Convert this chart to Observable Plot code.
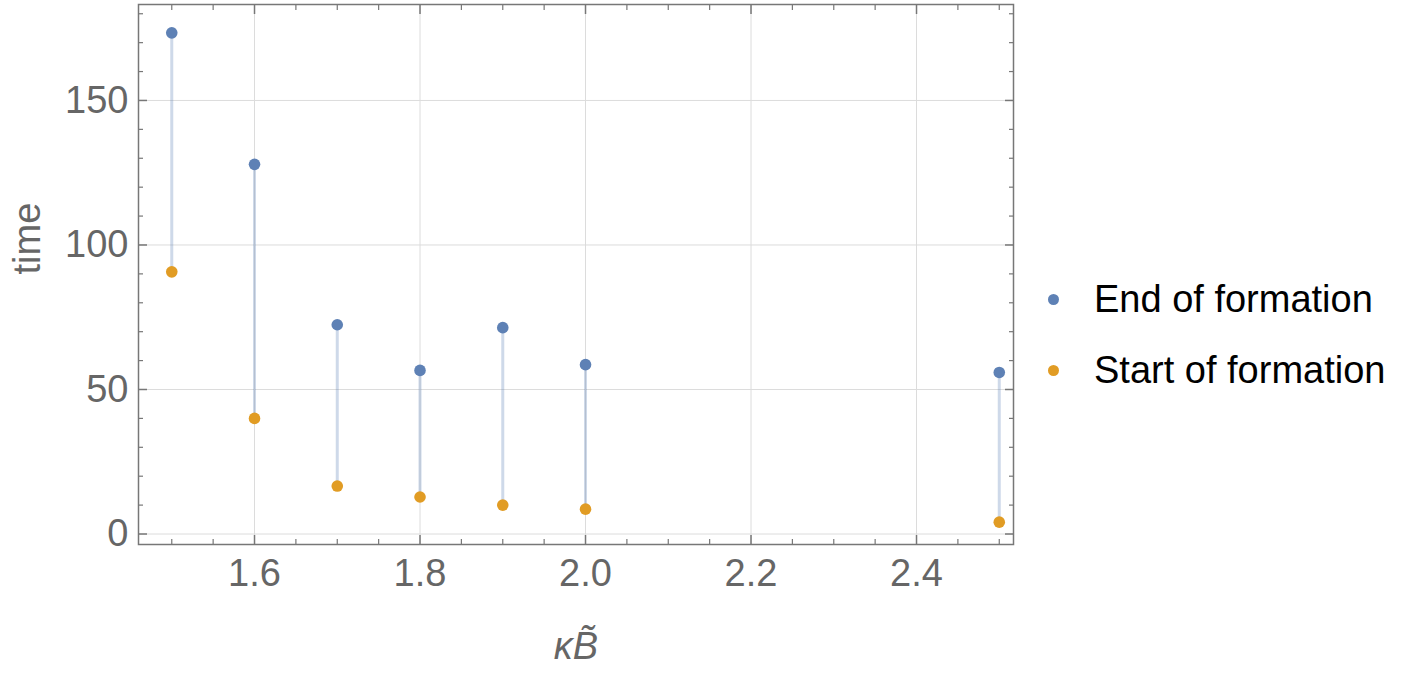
<!DOCTYPE html>
<html>
<head>
<meta charset="utf-8">
<script src="https://cdn.jsdelivr.net/npm/d3@7"></script>
<script src="https://cdn.jsdelivr.net/npm/@observablehq/plot@0.6"></script>
<style>
  body { margin: 0; background: #fff; }
  #wrap { position: relative; width: 1412px; height: 675px; }
  #legend { position: absolute; left: 1048px; top: 264px; font-family: "Liberation Sans", Arial, sans-serif; font-size: 38px; color: #000; }
  .item { display: flex; align-items: center; height: 71px; }
  .sw { width: 11px; height: 11px; border-radius: 50%; margin-right: 35px; }
</style>
</head>
<body>
<div id="wrap"><div id="legend"></div></div>
<script>
const kappaB = [1.5, 1.6, 1.7, 1.8, 1.9, 2.0, 2.5];
const endFormation = [173.4, 127.9, 72.4, 56.6, 71.4, 58.6, 55.9];
const startFormation = [90.7, 40.0, 16.6, 12.8, 10.0, 8.6, 4.1];
const seriesNames = ["End of formation", "Start of formation"];
const seriesColors = ["#5E81B5", "#E19C24"];
const xMajor = [1.6, 1.8, 2.0, 2.2, 2.4];
const xMinor = [1.5, 1.55, 1.65, 1.7, 1.75, 1.85, 1.9, 1.95, 2.05, 2.1, 2.15, 2.25, 2.3, 2.35, 2.45, 2.5];
const yMajor = [0, 50, 100, 150];
const yMinor = [10, 20, 30, 40, 60, 70, 80, 90, 110, 120, 130, 140, 160, 170, 180];

const rows = kappaB.map((k, i) => ({k, end: endFormation[i], start: startFormation[i]}));
const tickColor = "#777";

const chart = Plot.plot({
  width: 1412,
  height: 675,
  marginLeft: 138,
  marginRight: 399,
  marginTop: 4,
  marginBottom: 131,
  x: {domain: [1.4598, 2.5172]},
  y: {domain: [-3.63, 183.2]},
  style: {fontFamily: "'Liberation Sans', Arial, sans-serif", fontSize: "38px", color: "#666", background: "transparent"},
  marks: [
    Plot.gridX(xMajor, {stroke: "#dcdcdc", strokeOpacity: 1, strokeWidth: 1}),
    Plot.gridY(yMajor, {stroke: "#dcdcdc", strokeOpacity: 1, strokeWidth: 1}),
    Plot.ruleX(rows, {x: "k", y1: "start", y2: "end", stroke: seriesColors[0], strokeOpacity: 0.3, strokeWidth: 3}),
    Plot.dot(rows, {x: "k", y: "end", r: 5.8, fill: seriesColors[0]}),
    Plot.dot(rows, {x: "k", y: "start", r: 5.8, fill: seriesColors[1]}),
    Plot.frame({stroke: tickColor, strokeWidth: 1.5}),
    // tick marks (inward)
    Plot.axisX({anchor: "bottom", ticks: xMajor, tickSize: -9, tickFormat: () => "", label: null, stroke: tickColor, strokeWidth: 1.5}),
    Plot.axisX({anchor: "bottom", ticks: xMinor, tickSize: -5, tickFormat: () => "", label: null, stroke: tickColor, strokeWidth: 1.2}),
    Plot.axisX({anchor: "top", ticks: xMajor, tickSize: -9, tickFormat: () => "", label: null, stroke: tickColor, strokeWidth: 1.5}),
    Plot.axisX({anchor: "top", ticks: xMinor, tickSize: -5, tickFormat: () => "", label: null, stroke: tickColor, strokeWidth: 1.2}),
    Plot.axisY({anchor: "left", ticks: yMajor, tickSize: -9, tickFormat: () => "", label: null, stroke: tickColor, strokeWidth: 1.5}),
    Plot.axisY({anchor: "left", ticks: yMinor, tickSize: -5, tickFormat: () => "", label: null, stroke: tickColor, strokeWidth: 1.2}),
    Plot.axisY({anchor: "right", ticks: yMajor, tickSize: -9, tickFormat: () => "", label: null, stroke: tickColor, strokeWidth: 1.5}),
    Plot.axisY({anchor: "right", ticks: yMinor, tickSize: -5, tickFormat: () => "", label: null, stroke: tickColor, strokeWidth: 1.2}),
    // tick labels
    Plot.axisX({anchor: "bottom", ticks: xMajor, tickSize: 0, tickPadding: 15, tickFormat: d3.format(".1f"), label: null, fill: "#666"}),
    Plot.axisY({anchor: "left", ticks: yMajor, tickSize: 0, tickPadding: 10, tickFormat: d3.format("d"), label: null, fill: "#666"}),
    // axis titles
    Plot.text(["κB\u0303"], {frameAnchor: "bottom", dy: 114, fontStyle: "italic", fill: "#666", fontSize: 38, textAnchor: "middle"}),
    Plot.text(["time"], {frameAnchor: "left", dx: -111, rotate: -90, fill: "#666", fontSize: 38})
  ]
});
document.getElementById("wrap").prepend(chart);

const legend = document.getElementById("legend");
seriesNames.forEach((name, i) => {
  const it = document.createElement("div");
  it.className = "item";
  const sw = document.createElement("span");
  sw.className = "sw";
  sw.style.background = seriesColors[i];
  const t = document.createElement("span");
  t.textContent = name;
  it.append(sw, t);
  legend.append(it);
});
</script>
</body>
</html>
